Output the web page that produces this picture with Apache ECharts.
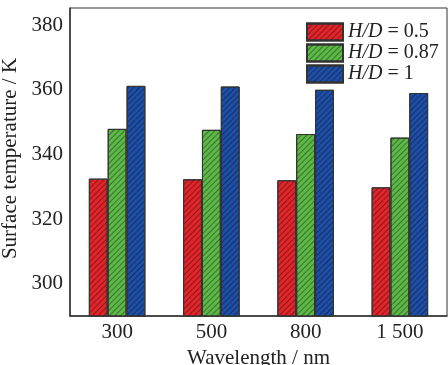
<!DOCTYPE html>
<html>
<head>
<meta charset="utf-8">
<script src="https://cdn.jsdelivr.net/npm/echarts@6/dist/echarts.min.js"></script>
<style>
  html, body { margin: 0; padding: 0; background: #fff; }
  #chart { width: 448px; height: 365px; }
</style>
</head>
<body>
<div id="chart"></div>
<script>
// Surface temperature for different wavelengths and H/D ratios
const wavelengths = ['300', '500', '800', '1 500'];
const seriesNames = ['0.5', '0.87', '1'];
const tempHD05 = [332.5, 332.3, 332.0, 329.8];
const tempHD087 = [347.9, 347.6, 346.3, 345.2];
const tempHD1 = [361.2, 361.0, 360.0, 359.0];
const yTicks = [300, 320, 340, 360, 380];

const colors = ['#e1252b', '#5cb947', '#1f4ea6'];
const values = [tempHD05, tempHD087, tempHD1];
const serif = 'Liberation Serif';

const hatch = {
  symbol: 'rect',
  symbolSize: 1,
  color: 'rgba(0,0,0,0.38)',
  dashArrayX: [1, 0],
  dashArrayY: [1, 3],
  rotation: -Math.PI / 4
};

const chart = echarts.init(document.getElementById('chart'));
chart.setOption({
  animation: false,
  grid: {
    left: 70, right: 1, top: 8, bottom: 49,
    show: true, borderColor: '#333', borderWidth: 1,
    outerBoundsMode: 'none'
  },
  legend: {
    orient: 'vertical',
    left: 301, top: 17,
    icon: 'rect',
    itemWidth: 36, itemHeight: 17, itemGap: 1,
    data: seriesNames,
    formatter: name => '{i|H/D} = ' + name,
    textStyle: {
      fontFamily: serif, fontSize: 20, color: '#222', lineHeight: 17,
      rich: { i: { fontFamily: serif, fontSize: 20, fontStyle: 'italic', color: '#222' } }
    }
  },
  xAxis: {
    type: 'category',
    data: wavelengths,
    name: 'Wavelength / nm',
    nameLocation: 'middle',
    nameGap: 28,
    nameTextStyle: { fontFamily: serif, fontSize: 21, color: '#222' },
    axisLine: { lineStyle: { color: '#333', width: 1.5 } },
    axisTick: { inside: true, alignWithLabel: true, length: 4, lineStyle: { color: '#333' } },
    axisLabel: { fontFamily: serif, fontSize: 21, color: '#222', margin: 6 }
  },
  yAxis: {
    type: 'value',
    min: 290, max: 385.3,
    name: 'Surface temperature / K',
    nameLocation: 'middle',
    nameGap: 45,
    nameTextStyle: { fontFamily: serif, fontSize: 21, color: '#222', padding: [0, 0, 0, 7] },
    splitLine: { show: false },
    axisLine: { show: true, lineStyle: { color: '#333', width: 1.5 } },
    axisTick: { inside: true, length: 6, customValues: yTicks, lineStyle: { color: '#333' } },
    axisLabel: { fontFamily: serif, fontSize: 21, color: '#222', margin: 7, customValues: yTicks }
  },
  series: seriesNames.map((n, i) => ({
    name: n,
    type: 'bar',
    data: values[i],
    barGap: '0%',
    barCategoryGap: '40%',
    itemStyle: {
      color: colors[i],
      borderColor: '#333',
      borderWidth: 1,
      decal: hatch
    }
  }))
});
</script>
</body>
</html>
